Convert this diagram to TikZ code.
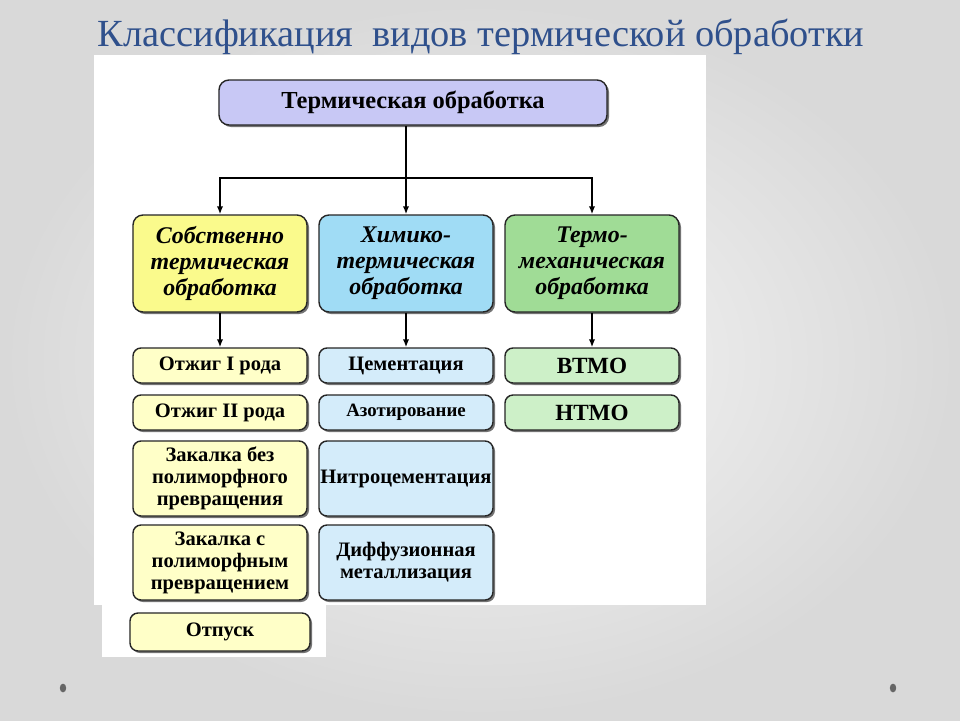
\documentclass[tikz,border=0pt]{standalone}
\usepackage{fontspec}
\setmainfont{Liberation Serif}
\usetikzlibrary{arrows, arrows.meta, shadows}

\definecolor{titleblue}{RGB}{47,80,140}
\definecolor{topfill}{RGB}{200,200,245}
\definecolor{yelfill}{RGB}{250,250,140}
\definecolor{bluefill}{RGB}{160,220,245}
\definecolor{greenfill}{RGB}{160,220,150}
\definecolor{yellight}{RGB}{255,255,200}
\definecolor{bluelight}{RGB}{212,236,250}
\definecolor{greenlight}{RGB}{205,240,200}

\tikzset{
  box/.style={draw=black!85, line width=1pt, rounded corners=2.5mm,
    align=center, inner sep=1pt,
    drop shadow={shadow xshift=0.5mm, shadow yshift=-0.5mm, fill=black!55, opacity=1}},
  groupbox/.style={box, minimum width=43.5mm, minimum height=24.25mm,
    font=\bfseries\itshape\fontsize{17}{18.5}\selectfont},
  smallbox/.style={box, rounded corners=2mm, minimum width=43.5mm, minimum height=8.75mm,
    font=\bfseries\fontsize{14.6}{15.6}\selectfont},
  tallbox/.style={smallbox, minimum height=18.75mm},
  link/.style={line width=1.1pt, -{Latex[length=2mm,width=1.6mm]}}
}

\begin{document}
\begin{tikzpicture}[x=0.25mm, y=-0.25mm]
\useasboundingbox (0,0) rectangle (960,720);
\shade[inner color=gray!6, outer color=gray!30] (0,0) rectangle (960,720);
\fill[white] (94,55) rectangle (706,605);
\fill[white] (102,605) rectangle (326,657);

\node[text=titleblue, font=\fontsize{27.3}{31}\selectfont] (title) at (481,37)
  {Классификация \ видов термической обработки};

% top level
\node[box, fill=topfill, minimum width=97mm, minimum height=11.25mm,
  font=\bfseries\fontsize{17.4}{20}\selectfont] (heat) at (413,102.5) {Термическая обработка};

\node[groupbox, fill=yelfill] (own) at (220,263.5) {Собственно\\термическая\\обработка};
\node[groupbox, fill=bluefill] (chem) at (406,263.5) {Химико-\\термическая\\обработка};
\node[groupbox, fill=greenfill] (mech) at (592,263.5) {Термо-\\механическая\\обработка};

\coordinate (split) at (406,178);
\draw[line width=1.1pt] (heat.south -| split) -- (split);
\draw[link] (split) -| (own.north);
\draw[link] (split) -- (chem.north);
\draw[link] (split) -| (mech.north);

% first column
\node[smallbox, fill=yellight] (ann1) at (220,365.5) {Отжиг I рода};
\node[smallbox, fill=yellight] (ann2) at (220,412.5) {Отжиг II рода};
\node[tallbox, fill=yellight] (quench1) at (220,478.5) {Закалка без\\полиморфного\\превращения};
\node[tallbox, fill=yellight] (quench2) at (220,562.5) {Закалка с\\полиморфным\\превращением};
\node[smallbox, fill=yellight, minimum width=45mm, minimum height=9.5mm] (temper) at (220,632) {Отпуск};

% second column
\node[smallbox, fill=bluelight] (cem) at (406,365.5) {Цементация};
\node[smallbox, fill=bluelight, font=\bfseries\fontsize{13.4}{15}\selectfont] (nitr) at (406,412.5) {Азотирование};
\node[tallbox, fill=bluelight] (nitrocem) at (406,478.5) {Нитроцементация};
\node[tallbox, fill=bluelight] (diff) at (406,562.5) {Диффузионная\\металлизация};

% third column
\node[smallbox, fill=greenlight, font=\bfseries\fontsize{16.5}{18}\selectfont] (vtmo) at (592,365.5) {ВТМО};
\node[smallbox, fill=greenlight, font=\bfseries\fontsize{16.5}{18}\selectfont] (ntmo) at (592,412.5) {НТМО};

\draw[link] (own) -- (ann1);
\draw[link] (chem) -- (cem);
\draw[link] (mech) -- (vtmo);

\fill[gray!80!black] (63,688) ellipse (0.8mm and 1.1mm);
\fill[gray!80!black] (893,688) ellipse (0.8mm and 1.1mm);
\end{tikzpicture}
\end{document}
